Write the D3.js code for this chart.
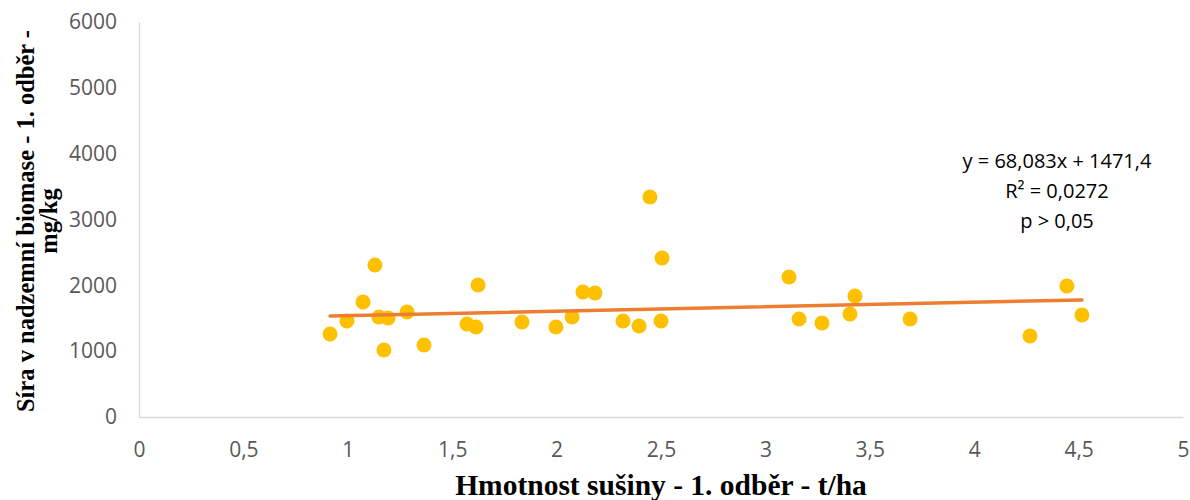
<!DOCTYPE html>
<html>
<head>
<meta charset="utf-8">
<script src="https://cdn.jsdelivr.net/npm/d3@7"></script>
<style>
  html, body { margin: 0; padding: 0; background: #fff; }
  svg { display: block; }
</style>
</head>
<body>
<svg id="chart" width="1190" height="500"></svg>
<script>
// Dry matter (t/ha) and sulphur content (mg/kg), first sampling
const dryMass = [0.915, 0.996, 1.073, 1.130, 1.149, 1.173, 1.193, 1.284, 1.365, 1.571,
                 1.614, 1.624, 1.834, 1.997, 2.074, 2.126, 2.184, 2.318, 2.395, 2.447,
                 2.500, 2.505, 3.113, 3.161, 3.271, 3.405, 3.429, 3.693, 4.267, 4.444, 4.516];
const sulphur = [1261, 1458, 1747, 2309, 1519, 1018, 1504, 1595, 1094, 1413,
                 1367, 2005, 1443, 1367, 1519, 1899, 1884, 1458, 1382, 3342,
                 1458, 2415, 2127, 1489, 1428, 1565, 1838, 1489, 1230, 1990, 1549];
const xTicks = [0, 0.5, 1, 1.5, 2, 2.5, 3, 3.5, 4, 4.5, 5];
const yTicks = [0, 1000, 2000, 3000, 4000, 5000, 6000];
const slope = 68.083, intercept = 1471.4;
const annotation = ["y = 68,083x + 1471,4", "R² = 0,0272", "p > 0,05"];

const svg = d3.select("#chart");
const plot = { left: 139, right: 1183, top: 22, bottom: 417 };

const x = d3.scaleLinear().domain([0, 5]).range([plot.left, plot.right]);
const y = d3.scaleLinear().domain([0, 6000]).range([plot.bottom, plot.top]);
const fmt = v => String(v).replace(".", ",");
const tickFont = "'Open Sans', sans-serif";

// Y axis
const yAxis = svg.append("g").attr("transform", `translate(${plot.left},0)`)
  .call(d3.axisLeft(y).tickValues(yTicks).tickSize(0).tickPadding(22).tickFormat(d => d));
yAxis.select(".domain").attr("stroke", "#d9d9d9").attr("stroke-width", 1.3);
yAxis.selectAll("text").attr("fill", "#595959").style("font-family", tickFont).style("font-size", "21px");

// X axis
const xAxis = svg.append("g").attr("transform", `translate(0,${plot.bottom})`)
  .call(d3.axisBottom(x).tickValues(xTicks).tickSize(0).tickPadding(25).tickFormat(fmt));
xAxis.select(".domain").attr("stroke", "#d9d9d9").attr("stroke-width", 1.3);
xAxis.selectAll("text").attr("fill", "#595959").style("font-family", tickFont).style("font-size", "21px");

// Scatter points
svg.append("g").selectAll("circle")
  .data(dryMass.map((d, i) => [d, sulphur[i]]))
  .join("circle")
  .attr("cx", d => x(d[0]))
  .attr("cy", d => y(d[1]))
  .attr("r", 7.5)
  .attr("fill", "#FFC000");

// Linear trend line over the data range
const [xMin, xMax] = d3.extent(dryMass);
svg.append("line")
  .attr("x1", x(xMin)).attr("y1", y(slope * xMin + intercept))
  .attr("x2", x(xMax)).attr("y2", y(slope * xMax + intercept))
  .attr("stroke", "#ED7D31").attr("stroke-width", 3.5).attr("stroke-linecap", "round");

// Trend line equation
svg.append("g").selectAll("text")
  .data(annotation)
  .join("text")
  .attr("x", 1057)
  .attr("y", (d, i) => 168 + i * 30)
  .attr("text-anchor", "middle")
  .style("font-family", tickFont).style("font-size", "20px")
  .attr("fill", "#000")
  .text(d => d);

// Axis titles
const titleFont = "'Liberation Serif', 'Times New Roman', serif";
svg.append("text")
  .attr("x", 661).attr("y", 495)
  .attr("text-anchor", "middle")
  .style("font-family", titleFont).style("font-size", "29.5px").style("font-weight", "bold")
  .text("Hmotnost sušiny - 1. odběr - t/ha");

const yTitle = svg.append("text")
  .attr("transform", "translate(0,221) rotate(-90)")
  .attr("text-anchor", "middle")
  .style("font-family", titleFont).style("font-size", "24.5px").style("font-weight", "bold");
yTitle.append("tspan").attr("x", 0).attr("y", 34).text("Síra v nadzemní biomase - 1. odběr -");
yTitle.append("tspan").attr("x", 0).attr("y", 57).text("mg/kg");
</script>
</body>
</html>
